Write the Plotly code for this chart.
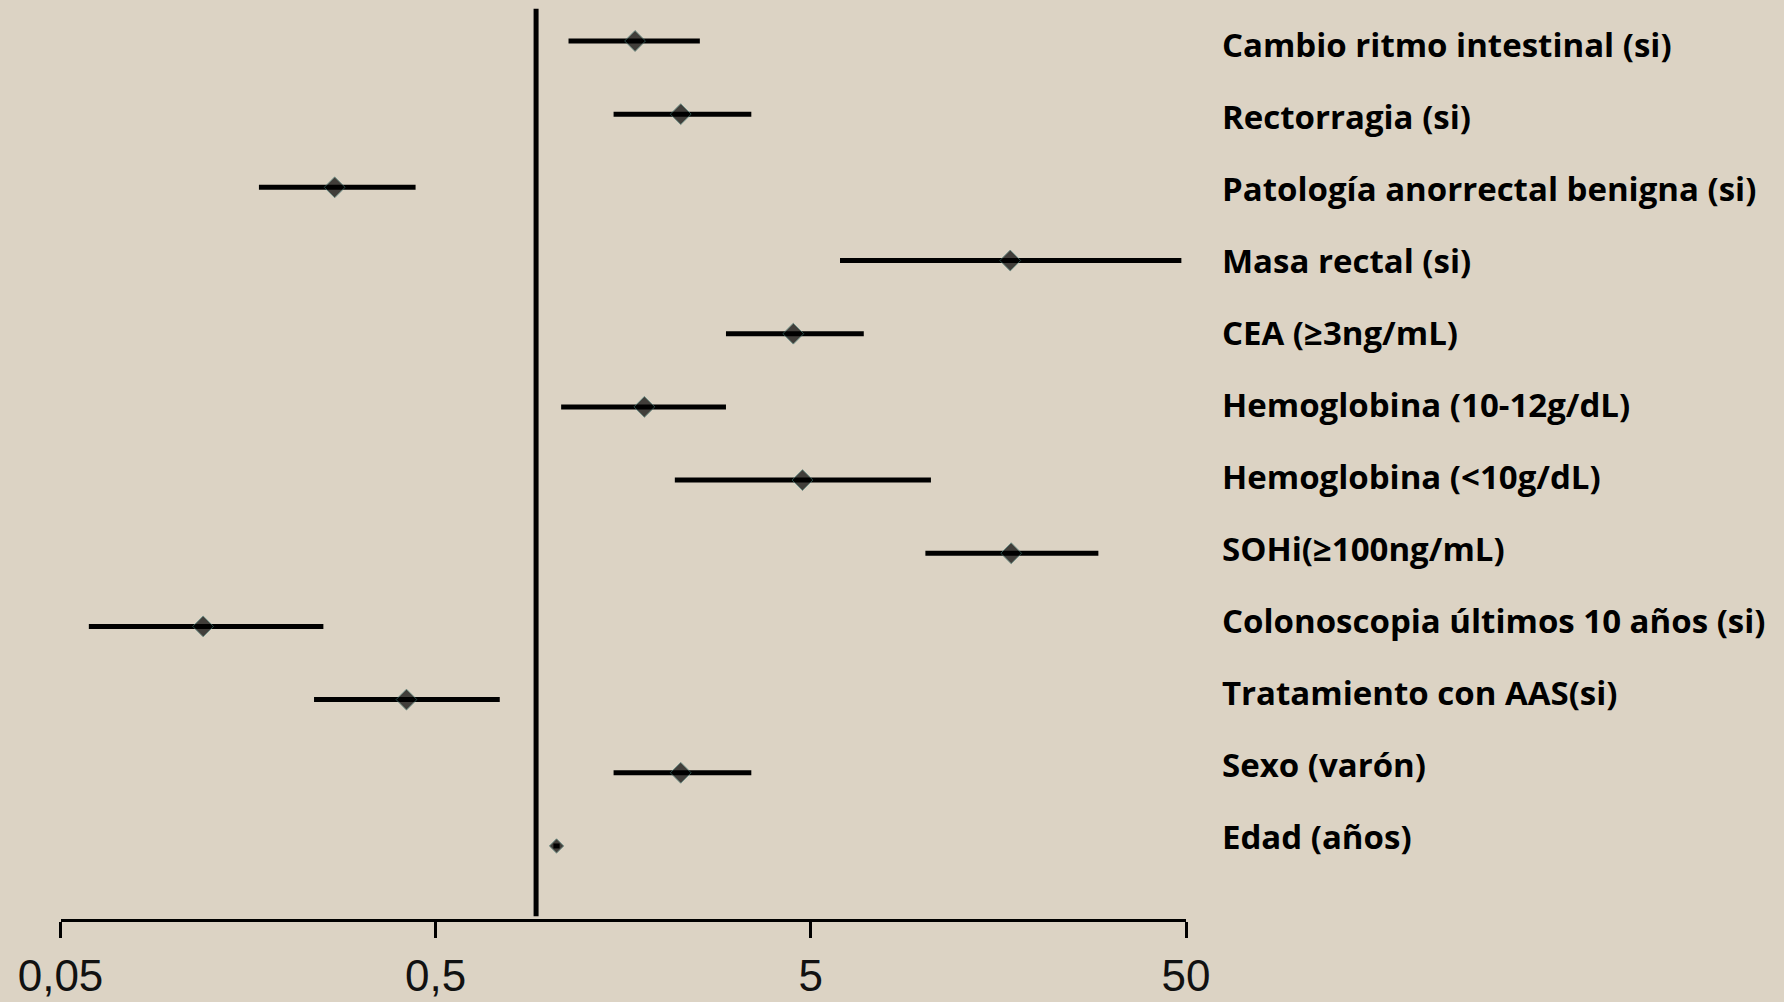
import plotly.graph_objects as go

# Odds ratios with 95% confidence intervals, one row per factor (top to bottom)
labels = [
    "Cambio ritmo intestinal (si)",
    "Rectorragia (si)",
    "Patología anorrectal benigna (si)",
    "Masa rectal (si)",
    "CEA (≥3ng/mL)",
    "Hemoglobina (10-12g/dL)",
    "Hemoglobina (<10g/dL)",
    "SOHi(≥100ng/mL)",
    "Colonoscopia últimos 10 años (si)",
    "Tratamiento con AAS(si)",
    "Sexo (varón)",
    "Edad (años)",
]
odds_ratio = [1.70, 2.25, 0.269, 17.0, 4.49, 1.80, 4.75, 17.1, 0.120, 0.418, 2.25, 1.05]
ci_low = [1.13, 1.49, 0.169, 5.98, 2.97, 1.08, 2.17, 10.1, 0.0595, 0.237, 1.49, 1.03]
ci_high = [2.53, 3.47, 0.442, 48.6, 6.92, 2.97, 10.45, 29.2, 0.251, 0.741, 3.47, 1.07]

tick_values = [0.05, 0.5, 5, 50]
tick_labels = ["0,05", "0,5", "5", "50"]
reference_or = 0.926

W, H = 1784, 1002
BG = "#dcd3c4"
rows = list(range(1, len(labels) + 1))

fig = go.Figure()

# vertical line of no effect
fig.add_trace(go.Scatter(
    x=[reference_or, reference_or], y=[0.56, 12.96], mode="lines",
    line=dict(color="black", width=5), hoverinfo="skip", showlegend=False,
    cliponaxis=False,
))

# confidence interval segments
for r, lo, hi in zip(rows, ci_low, ci_high):
    fig.add_trace(go.Scatter(
        x=[lo, hi], y=[r, r], mode="lines",
        line=dict(color="black", width=5), hoverinfo="skip", showlegend=False,
        cliponaxis=False,
    ))

# point estimates
sizes = [16] * (len(rows) - 1) + [11]
fig.add_trace(go.Scatter(
    x=odds_ratio, y=rows, mode="markers",
    marker=dict(symbol="diamond", size=sizes, color="black",
                line=dict(color="#3f6f6a", width=1)),
    showlegend=False, cliponaxis=False,
))

# factor labels in a column on the right, slightly tighter than the rows
label_top_px, label_step_px = 44.5, 72.0
for i, lab in enumerate(labels):
    fig.add_annotation(
        x=1220 / W, xref="paper",
        y=1 - (label_top_px + i * label_step_px) / H, yref="paper",
        text=f"<b>{lab}</b>",
        showarrow=False, xanchor="left", yanchor="middle",
        font=dict(family="Open Sans", size=33, color="black"),
    )

x0_px, x1_px = 60.5, 1186.0
fig.update_layout(
    width=W, height=H, margin=dict(l=0, r=0, t=0, b=0),
    paper_bgcolor=BG, plot_bgcolor=BG,
    xaxis=dict(
        type="log", range=[-1.30103, 1.69897],
        domain=[x0_px / W, x1_px / W], automargin=False,
        tickvals=tick_values, ticktext=tick_labels,
        showline=True, linecolor="black", linewidth=3,
        ticks="outside", ticklen=16, tickwidth=3, tickcolor="black",
        showgrid=False, zeroline=False,
        tickfont=dict(family="Liberation Sans", size=44, color="#111"),
        ticklabelstandoff=0,
    ),
    yaxis=dict(
        range=[12.998, 0.44], domain=[1 - 919 / H, 1], automargin=False,
        showgrid=False, zeroline=False, showticklabels=False, showline=False,
    ),
)

fig.write_html("out.html")
